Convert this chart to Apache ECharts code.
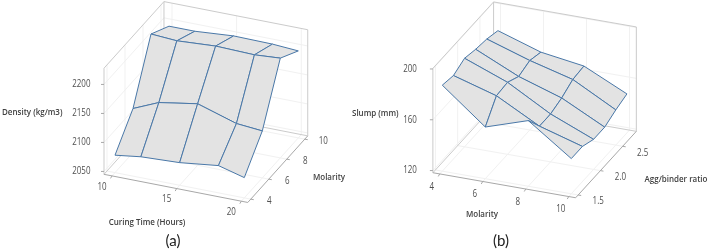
<!DOCTYPE html>
<html><head><meta charset="utf-8">
<style>html,body{margin:0;padding:0;background:#fff}#c{width:708px;height:250px}</style>
<script src="https://cdn.jsdelivr.net/npm/echarts@6/dist/echarts.min.js"></script>
</head><body><div id="c"></div>
<script>
// Panel (a) data
const curingTime = [10, 12, 15, 18, 20];
const molarityA = [4, 6, 8, 10];
const densityAt4M = [2075, 2081, 2084, 2092, 2080];
const densityAt6M = [2121, 2140, 2151, 2130, 2126];
const densityAt8M = [2215, 2212, 2216, 2214, 2217];
const densityAt10M = [2194, 2194, 2199, 2198, 2195];
const xTicksA = [10, 15, 20], yTicksA = [4, 6, 8, 10], zTicksA = [2050, 2100, 2150, 2200];
// Panel (b) data
const molarityB = [4, 6, 8, 10];
const aggBinder = [1.5, 1.75, 2.0, 2.25, 2.5, 2.75];
const slumpAt150 = [186, 159, 170, 146];
const slumpAt175 = [184, 174, 156, 146];
const slumpAt200 = [188, 175, 156, 142];
const slumpAt225 = [185.5, 170, 159, 142];
const slumpAt250 = [184, 173, 164, 146];
const slumpAt275 = [181, 170, 165, 149];
const xTicksB = [4, 6, 8, 10], yTicksB = [1.5, 2.0, 2.5], zTicksB = [120, 160, 200];

const TICK = '10px "Open Sans"', TITLE = '600 9.5px "Open Sans"', CAP = '15px Lato';
const panels = [
 {xs:curingTime, ys:molarityA, zz:[densityAt4M,densityAt6M,densityAt8M,densityAt10M],
  xT:xTicksA, yT:yTicksA, zT:zTicksA, fmtY:String,
  o:[115,169.7,10,4,2050], ex:[12.93,2.53], ey:[9,-10], ez:-0.58,
  dom:{x:[9.38,20.5], y:[3.67,10.33], z:[2045,2228]},
  xOff:[-10,11], yOff:[18.5,2], zOff:-13.5,
  titles:[['Density (kg/m3)',2,112,'left'],['Curing Time (Hours)',147,222,'center'],['Molarity',329,177.5,'center']],
  cap:['(a)',173,241]},
 {xs:molarityB, ys:aggBinder, zz:[slumpAt150,slumpAt175,slumpAt200,slumpAt225,slumpAt250,slumpAt275],
  xT:xTicksB, yT:yTicksB, zT:zTicksB, fmtY:v=>v.toFixed(1),
  o:[442.3,169,4,1.5,120], ex:[21.5,3.77], ey:[44.5,-48.7], ez:-1.27,
  dom:{x:[3.68,10.32], y:[1.443,2.807], z:[118.3,200.5]},
  xOff:[-8,13], yOff:[20,6.5], zOff:-16,
  titles:[['Slump (mm)',352,113,'left'],['Molarity',482,214,'center'],['Agg/binder ratio',676,179.5,'center']],
  cap:['(b)',501,241]}
];
const proj = (p,x,y,z)=>[
  p.o[0]+(x-p.o[2])*p.ex[0]+(y-p.o[3])*p.ey[0],
  p.o[1]+(x-p.o[2])*p.ex[1]+(y-p.o[3])*p.ey[1]+(z-p.o[4])*p.ez];

const gridL=[], frameL=[], axisL=[], quads=[], texts=[];
panels.forEach(p=>{
  const [x0,x1]=p.dom.x,[y0,y1]=p.dom.y,[z0,z1]=p.dom.z;
  const seg=(arr,a,b)=>arr.push([...proj(p,...a),...proj(p,...b)]);
  p.xT.forEach(v=>{seg(gridL,[v,y1,z0],[v,y1,z1]);seg(gridL,[v,y0,z0],[v,y1,z0]);});
  p.yT.forEach(v=>{seg(gridL,[x0,v,z0],[x0,v,z1]);seg(gridL,[x0,v,z0],[x1,v,z0]);});
  p.zT.forEach(v=>{seg(gridL,[x0,y0,v],[x0,y1,v]);seg(gridL,[x0,y1,v],[x1,y1,v]);});
  seg(frameL,[x0,y0,z0],[x0,y0,z1]);seg(frameL,[x0,y1,z0],[x0,y1,z1]);seg(frameL,[x1,y1,z0],[x1,y1,z1]);
  seg(frameL,[x0,y0,z1],[x0,y1,z1]);seg(frameL,[x0,y1,z1],[x1,y1,z1]);
  seg(frameL,[x0,y0,z0],[x0,y1,z0]);seg(frameL,[x0,y1,z0],[x1,y1,z0]);
  seg(axisL,[x0,y0,z0],[x1,y0,z0]);seg(axisL,[x1,y0,z0],[x1,y1,z0]);
  p.xT.forEach(v=>{const a=proj(p,v,y0,z0);axisL.push([a[0],a[1],a[0]-1.5,a[1]+2.5]);
    texts.push([a[0]+p.xOff[0],a[1]+p.xOff[1],String(v),TICK,'center','#505050',0.8]);});
  p.yT.forEach(v=>{const a=proj(p,x1,v,z0);axisL.push([a[0],a[1],a[0]+3,a[1]+0.5]);
    texts.push([a[0]+p.yOff[0],a[1]+p.yOff[1],p.fmtY(v),TICK,'center','#505050',0.8]);});
  p.zT.forEach(v=>{const a=proj(p,x0,y0,v);axisL.push([a[0],a[1],a[0]-3,a[1]]);
    texts.push([a[0]+p.zOff,a[1],String(v),TICK,'right','#505050',0.8]);});
  for(let j=p.ys.length-2;j>=0;j--)for(let i=0;i<p.xs.length-1;i++){
    const c=(a,b)=>proj(p,p.xs[a],p.ys[b],p.zz[b][a]);
    quads.push([...c(i,j),...c(i+1,j),...c(i+1,j+1),...c(i,j+1)]);
  }
  p.titles.forEach(t=>texts.push([t[1],t[2],t[0],TITLE,t[3],'#404040',0.84]));
  texts.push([p.cap[1],p.cap[2],p.cap[0],CAP,'center','#222',1]);
});

const lineSeries=(data,color,width,z)=>({type:'custom',coordinateSystem:'cartesian2d',clip:false,silent:true,z,
  data,renderItem:(ps,api)=>{
    const a=api.coord([api.value(0),api.value(1)]),b=api.coord([api.value(2),api.value(3)]);
    return {type:'line',shape:{x1:a[0],y1:a[1],x2:b[0],y2:b[1]},style:{stroke:color,lineWidth:width}};
  },encode:{x:[0,2],y:[1,3]}});

const chart=echarts.init(document.getElementById('c'),null,{renderer:'canvas'});
chart.setOption({
  animation:false, backgroundColor:'#fff',
  grid:{left:0,right:0,top:0,bottom:0},
  xAxis:{type:'value',min:0,max:708,show:false},
  yAxis:{type:'value',min:0,max:250,inverse:true,show:false},
  series:[
    lineSeries(gridL,'#f1f1f1',1,1),
    lineSeries(frameL,'#cbcbcb',1,2),
    lineSeries(axisL,'#a8a8a8',1,3),
    {type:'custom',coordinateSystem:'cartesian2d',clip:false,silent:true,z:4,data:quads,
     encode:{x:[0,2,4,6],y:[1,3,5,7]},
     renderItem:(ps,api)=>{
       const pts=[0,2,4,6].map(k=>api.coord([api.value(k),api.value(k+1)]));
       return {type:'polygon',shape:{points:pts},style:{fill:'#e3e3e3',stroke:'#4a78a8',lineWidth:1,lineJoin:'round'}};
     }},
    {type:'custom',coordinateSystem:'cartesian2d',clip:false,silent:true,z:5,data:texts,
     encode:{x:0,y:1},
     renderItem:(ps,api)=>{
       const r=texts[ps.dataIndex],a=api.coord([r[0],r[1]]);
       return {type:'text',x:a[0],y:a[1],scaleX:r[6],style:{text:r[2],font:r[3],align:r[4],verticalAlign:'middle',fill:r[5]}};
     }}
  ]
});
</script></body></html>
